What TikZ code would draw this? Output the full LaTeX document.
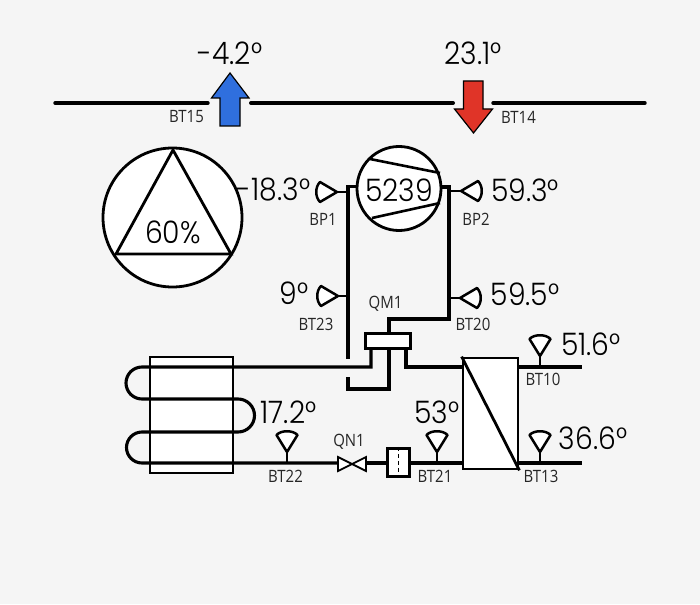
\documentclass[tikz,border=0pt]{standalone}
\usepackage{fontspec}
\setmainfont{Poppins}[UprightFont=* Light,FakeStretch=0.91]
\newfontfamily\smallfont{Open Sans}[FakeStretch=0.88]
\definecolor{bgc}{HTML}{F5F5F5}
\definecolor{upblue}{HTML}{2F6FDE}
\definecolor{downred}{HTML}{E03428}
\tikzset{
  pipe/.style={line width=3.1pt,line cap=butt,line join=miter},
  thinbox/.style={draw=black,line width=2.8pt,fill=white},
  big/.style={font=\fontsize{31}{31}\selectfont,inner sep=0pt,text=black},
  tag/.style={font=\smallfont\fontsize{17}{17}\selectfont,inner sep=0pt,text=black!85},
  sensor/.style={draw=black,line width=2.5pt,fill=white,line join=round},
  stem/.style={line width=2.5pt},
}
\newcommand{\sensorup}[3]{% x, tip y, name
  \coordinate (#3) at (#1,#2);
  \draw[sensor] (#1,#2) -- (#1-10.5,#2-17) .. controls (#1-6,#2-22) and (#1+6,#2-22) .. (#1+10.5,#2-17) -- cycle;}
\newcommand{\sensorleft}[3]{% tip x, y, name (blob to the left)
  \coordinate (#3) at (#1,#2);
  \draw[sensor] (#1,#2) -- (#1-17,#2-10) .. controls (#1-22,#2-5) and (#1-22,#2+5) .. (#1-17,#2+10) -- cycle;}
\newcommand{\sensorright}[3]{%
  \coordinate (#3) at (#1,#2);
  \draw[sensor] (#1,#2) -- (#1+17,#2-10) .. controls (#1+22,#2-5) and (#1+22,#2+5) .. (#1+17,#2+10) -- cycle;}
\begin{document}
\begin{tikzpicture}[x=1pt,y=-1pt]
\fill[fill=bgc] (0,0) rectangle (700,604);
\useasboundingbox (0,0) rectangle (700,604);
% air duct
\draw[line width=3.4pt,line cap=round] (55,103) -- (208,103);
\draw[line width=4pt,line cap=round] (251,103) -- (453,103);
\draw[line width=3.4pt,line cap=round] (493,103) -- (645,103);
\draw[fill=upblue,draw=black,line width=1.2pt,line join=miter]
  (230,73) -- (249,98) -- (240,98) -- (240,126) -- (220,126) -- (220,98) -- (211.5,98) -- cycle;
\draw[fill=downred,draw=black,line width=1.2pt]
  (463.5,81) -- (483,81) -- (483,109) -- (492.5,109) -- (473.5,133) -- (454.5,109) -- (463.5,109) -- cycle;
% fan
\node[circle,draw=black,line width=2.8pt,fill=white,minimum size=139pt,inner sep=0pt] (fan) at (172.5,217.5) {};
\coordinate (ta) at (173,150); \coordinate (tb) at (116,254); \coordinate (tc) at (231,254);
\draw[line width=2.8pt,line join=miter] (ta) -- (tb) -- (tc) -- cycle;
\node[big] (fanpct) at (173,232) {60\%};
% refrigerant pipes
\draw[pipe] (357,186.5) -- (348,186.5) -- (348,359);
\draw[pipe] (441,187) -- (449,187) -- (449,319) -- (389,319) -- (389,334);
\draw[pipe] (348,377) -- (348,389) -- (389,389) -- (389,349);
% coil
\node[thinbox,minimum width=83pt,minimum height=116pt,inner sep=0pt] (coil) at (191.5,415) {};
\draw[pipe] (371,349) -- (371,367) -- (142,367) arc[start angle=-90,end angle=-270,radius=16] -- (238,399)
  arc[start angle=-90,end angle=90,radius=16.5] -- (142,432) arc[start angle=-90,end angle=-270,radius=15.5] -- (338,463);
% heat exchanger links
\draw[pipe] (406,349) -- (406,367) -- (463,367);
\draw[pipe] (366,463) -- (387,463);
\draw[pipe] (410,463) -- (463,463);
\draw[pipe] (518,367) -- (582,367);
\draw[pipe] (518,463) -- (582,463);
% compressor
\node[circle,draw=black,line width=2.8pt,fill=white,minimum size=84pt,inner sep=0pt] (comp) at (399,188.5) {};
\draw[line width=2.6pt] (370,159) -- (440,173);
\draw[line width=2.6pt] (372,218) -- (440,203);
\node[big] (compval) at (399,190) {5239};
% 4-way valve
\node[draw=black,line width=3.4pt,fill=white,minimum width=45pt,minimum height=15pt,inner sep=0pt] (qm) at (388,341) {};
% exchanger
\node[thinbox,minimum width=55pt,minimum height=111pt,inner sep=0pt] (hx) at (490.5,413.5) {};
\draw[line width=2.8pt] (hx.north west) -- (hx.south east);
% expansion valve
\coordinate (qna) at (338,457); \coordinate (qnb) at (338,471); \coordinate (qnc) at (366,457); \coordinate (qnd) at (366,471);
\draw[line width=1.8pt,fill=white,line join=miter] (qna) -- (qnd) -- (qnc) -- (qnb) -- cycle;
% filter
\node[draw=black,line width=3.4pt,fill=white,minimum width=22pt,minimum height=28pt,inner sep=0pt] (flt) at (398.5,462.5) {};
\draw[line width=1.2pt,dash pattern=on 4pt off 3pt] (flt.north) -- (flt.south);
% sensors
\draw[stem] (348,192) -- (337,192);
\sensorleft{337}{192}{bp1}
\draw[stem] (449,191) -- (461,191);
\sensorright{461}{191}{bp2}
\draw[stem] (348,296) -- (338,296);
\sensorleft{338}{296}{bt23}
\draw[stem] (449,298) -- (460,298);
\sensorright{460}{298}{bt20}
\draw[stem] (287,463) -- (287,452);
\sensorup{287}{452}{bt22}
\draw[stem] (437,463) -- (437,452);
\sensorup{437}{452}{bt21}
\draw[stem] (540,367) -- (540,356);
\sensorup{540}{356}{bt10}
\draw[stem] (540,463) -- (540,452);
\sensorup{540}{452}{bt13}
% values
\node[big] (v1) at (230,53) {-4.2°};
\node[big] (v2) at (473,53) {23.1°};
\node[big] (v3) at (273.5,190) {-18.3°};
\node[big] (v4) at (525,190) {59.3°};
\node[big] (v5) at (294,293) {9°};
\node[big] (v6) at (525,294) {59.5°};
\node[big] (v7) at (591,344) {51.6°};
\node[big] (v8) at (593,438) {36.6°};
\node[big] (v9) at (288.5,412) {17.2°};
\node[big] (v10) at (437,412) {53°};
% tags
\node[tag] (l1) at (186.5,117) {BT15};
\node[tag] (l2) at (518.5,117) {BT14};
\node[tag] (l3) at (323,219) {BP1};
\node[tag] (l4) at (476,219) {BP2};
\node[tag] (l5) at (316,324) {BT23};
\node[tag] (l6) at (473,324) {BT20};
\node[tag] (l7) at (385.5,304) {QM1};
\node[tag] (l8) at (543,379) {BT10};
\node[tag] (l9) at (541,476) {BT13};
\node[tag] (l10) at (435,476) {BT21};
\node[tag] (l11) at (349,442) {QN1};
\node[tag] (l12) at (285.5,476) {BT22};
\end{tikzpicture}
\end{document}
